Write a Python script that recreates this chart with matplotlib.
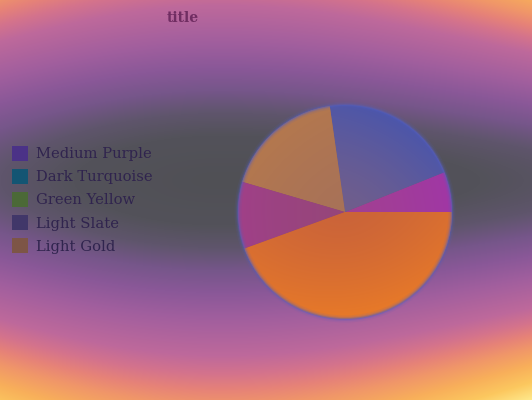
import numpy as np
import matplotlib
matplotlib.use("Agg")
import matplotlib.pyplot as plt
from matplotlib.patches import Patch, Circle

# ---- data ----
categories = ["Medium Purple", "Dark Turquoise", "Green Yellow", "Light Slate", "Light Gold"]
values = [6, 21, 18, 10, 44]
title_text = "title"

# ---- styles ----
wedge_inner = [(162, 64, 146), (112, 94, 140), (168, 114, 88), (150, 70, 122), (203, 100, 57)]
wedge_outer = [(160, 55, 165), (76, 86, 170), (180, 120, 78), (160, 64, 136), (232, 122, 40)]
legend_colors = [(75, 50, 135), (20, 85, 115), (75, 105, 55), (65, 55, 105), (125, 85, 70)]

W, H = 532, 400
fig = plt.figure(figsize=(W / 100, H / 100), dpi=100)

# ---- background gradient ----
yy, xx = np.mgrid[0:H, 0:W].astype(float)
cx, cy = 220.0, 180.0
dx = xx - cx
dy = yy - cy
cadd = np.where(dx < 0, 733.0, 1300.0)
u = np.sqrt((dy / 225.0) ** 2 * (1 + (dx / 368.0) ** 2) + (dx / cadd) ** 2)
stops = [0, 0.2, 0.3, 0.4, 0.5, 0.62, 0.78, 0.86, 0.93, 1.0, 1.1, 1.2, 1.32]
scols = np.array([(80, 80, 85), (83, 82, 90), (95, 85, 108), (118, 86, 138), (138, 88, 152),
                  (162, 95, 158), (190, 105, 155), (212, 115, 140), (230, 130, 120),
                  (240, 150, 105), (248, 175, 90), (252, 200, 95), (255, 240, 150)], float)
bg = np.stack([np.interp(u, stops, scols[:, c]) for c in range(3)], axis=-1) / 255.0
bax = fig.add_axes([0, 0, 1, 1])
bax.imshow(bg, extent=(0, W, H, 0), aspect="auto", interpolation="bilinear")
bax.set_xlim(0, W)
bax.set_ylim(H, 0)
bax.axis("off")

# ---- pie ----
pcx, pcy, R = 345.0, 212.0, 107.0
m = 1.1
side = 2 * m * R
ax = fig.add_axes([(pcx - m * R) / W, (H - pcy - m * R) / H, side / W, side / H])
wedges, _ = ax.pie(values, startangle=0, counterclock=True,
                   colors=[tuple(c / 255 for c in col) for col in wedge_inner],
                   wedgeprops=dict(linewidth=0))
ax.set_xlim(-m, m)
ax.set_ylim(-m, m)
ax.set_aspect("equal")
ax.axis("off")

n = 400
gy, gx = np.mgrid[-1:1:n * 1j, -1:1:n * 1j]
gy = -gy
r = np.sqrt(gx ** 2 + gy ** 2)
for w, ci, co in zip(wedges, wedge_inner, wedge_outer):
    tm = np.deg2rad((w.theta1 + w.theta2) / 2)
    p = gx * np.cos(tm) + gy * np.sin(tm)
    f = np.clip(0.45 * r ** 1.5 + 0.55 * np.clip(p, 0, 1) ** 1.3, 0, 1)
    ci = np.array(ci, float)
    co = np.array(co, float)
    img = (ci[None, None, :] + (co - ci)[None, None, :] * f[..., None]) / 255.0
    im = ax.imshow(img, extent=(-1, 1, -1, 1), origin="upper", interpolation="bilinear", zorder=2)
    im.set_clip_path(w)

# soft bluish rim
for lw, a in [(7, 0.10), (4, 0.18), (2, 0.38)]:
    ax.add_patch(Circle((0, 0), 1.0, fill=False, edgecolor=(85 / 255, 95 / 255, 190 / 255),
                        linewidth=lw * 0.72, alpha=a, zorder=3))

# ---- legend ----
handles = [Patch(facecolor=tuple(c / 255 for c in col), edgecolor="none") for col in legend_colors]
leg = fig.legend(handles, categories, loc="upper left", bbox_to_anchor=(12 / W, 1 - 146 / H),
                 frameon=False, borderpad=0, borderaxespad=0, handlelength=1.1,
                 handleheight=1.15, handletextpad=0.55, labelspacing=0.53,
                 prop={"family": "DejaVu Serif", "size": 10.6})
for t in leg.get_texts():
    t.set_color((48 / 255, 36 / 255, 78 / 255))

# ---- title ----
fig.text(183 / W, 1 - 17.5 / H, title_text, ha="center", va="center", fontsize=10,
         fontweight="bold", family="DejaVu Serif", color=(112 / 255, 45 / 255, 98 / 255))

fig.savefig("out.png", dpi=100)
